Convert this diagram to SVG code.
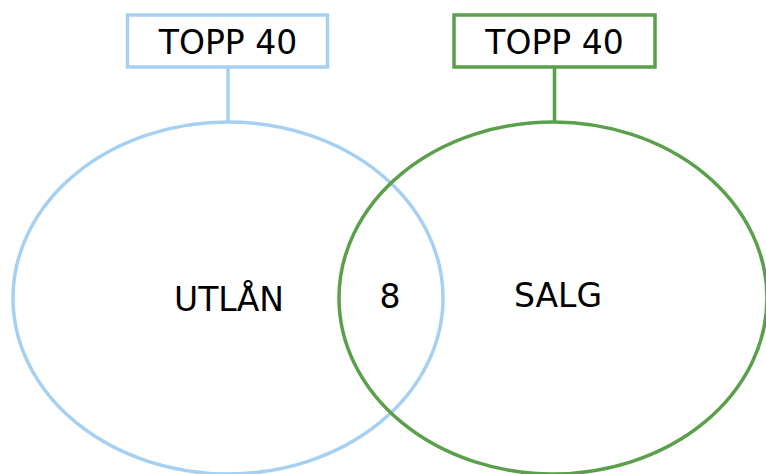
<svg xmlns="http://www.w3.org/2000/svg" width="766" height="474" viewBox="0 0 766 474">
<style>
.t{font-family:"DejaVu Sans",Verdana,sans-serif;font-size:33px;fill:#000;text-anchor:middle}
.b{stroke:#a6d0f2;stroke-width:3.5;fill:none}
.g{stroke:#5aa04a;stroke-width:3.5;fill:none}
.box{fill:#fff}
</style>
<rect width="766" height="474" fill="#fff"/>
<g id="connectors">
<line class="b" x1="228" y1="67" x2="228" y2="122"/>
<line class="g" x1="554.5" y1="67" x2="554.5" y2="122"/>
</g>
<g id="utlan">
<ellipse class="b" cx="228" cy="298" rx="215" ry="176"/>
<text class="t" x="229" y="311">UTLÅN</text>
</g>
<g id="salg">
<ellipse class="g" cx="553" cy="298" rx="214" ry="176"/>
<text class="t" x="558" y="307">SALG</text>
</g>
<g id="overlap">
<text class="t" x="390" y="308">8</text>
</g>
<g id="topp-left">
<rect class="b box" x="127.5" y="15" width="200" height="52"/>
<text class="t" x="228" y="54">TOPP 40</text>
</g>
<g id="topp-right">
<rect class="g box" x="454" y="15" width="201" height="52"/>
<text class="t" x="554.5" y="54">TOPP 40</text>
</g>
</svg>
